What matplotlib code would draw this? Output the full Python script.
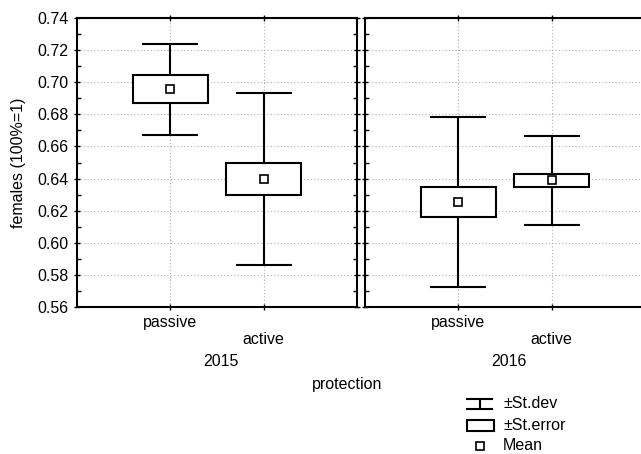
import matplotlib
matplotlib.use("Agg")
import matplotlib.pyplot as plt
from matplotlib.patches import Rectangle
from matplotlib.ticker import MultipleLocator
from matplotlib.lines import Line2D

plt.rcParams['font.family'] = ['Liberation Sans', 'DejaVu Sans']
plt.rcParams['font.size'] = 11.5

years = ["2015", "2016"]
categories = ["passive", "active"]
means = {"2015": [0.6956, 0.6395], "2016": [0.6255, 0.6388]}
st_err = {"2015": [0.0088, 0.0099], "2016": [0.0095, 0.0041]}
st_dev = {"2015": [0.0282, 0.0536], "2016": [0.0529, 0.0275]}

W, H = 641, 454
fig = plt.figure(figsize=(W / 100, H / 100), dpi=100)

lw = 1.5
panel_left = [77, 365]
panel_w = 280
top_px, bot_px = 18, 307

axes = []
for i, yr in enumerate(years):
    ax = fig.add_axes([panel_left[i] / W, (H - bot_px) / H, panel_w / W, (bot_px - top_px) / H])
    axes.append(ax)
    x = [1, 2]
    m = means[yr]
    se = st_err[yr]
    sd = st_dev[yr]
    ax.errorbar(x, m, yerr=sd, fmt='none', ecolor='black', elinewidth=lw,
                capsize=20, capthick=lw, zorder=3)
    for xi, mi, si in zip(x, m, se):
        ax.add_patch(Rectangle((xi - 0.4, mi - si), 0.8, 2 * si, facecolor='white',
                               edgecolor='black', lw=lw, zorder=4))
    ax.plot(x, m, linestyle='none', marker='s', markersize=6, markerfacecolor='white',
            markeredgecolor='black', markeredgewidth=1.2, zorder=5)
    ax.set_xlim(0, 3)
    ax.set_ylim(0.56, 0.74)
    ax.yaxis.set_major_locator(MultipleLocator(0.02))
    ax.yaxis.set_minor_locator(MultipleLocator(0.01))
    ax.set_xticks(x)
    ax.set_xticklabels([])
    ax.grid(True, which='major', color='#b0b0b0', linestyle=(0, (1, 2)), linewidth=0.8)
    ax.set_axisbelow(True)
    for s in ax.spines.values():
        s.set_linewidth(1.5)
    ax.tick_params(axis='both', which='major', direction='inout', length=4, width=1,
                   left=True, right=True, top=True, bottom=True)
    ax.tick_params(axis='y', which='minor', direction='in', length=3, width=1,
                   left=True, right=True)
    if i == 0:
        ax.set_yticks([0.56 + 0.02 * k for k in range(10)])
        ax.set_yticklabels([f"{0.56 + 0.02 * k:.2f}" for k in range(10)])
        ax.tick_params(axis='y', which='major', pad=4)
    else:
        ax.set_yticklabels([])
    # staggered category labels
    for j, (xi, cat) in enumerate(zip(x, categories)):
        ax.annotate(cat, xy=(xi, 0), xycoords=('data', 'axes fraction'),
                    xytext=(0, -16 * 0.72 - 17 * 0.72 * j), textcoords='offset points',
                    ha='center', va='center')
    ax.annotate(yr, xy=(1.5, 0), xycoords=('data', 'axes fraction'),
                xytext=(3, -55 * 0.72), textcoords='offset points', ha='center', va='center')

axes[0].set_ylabel("females (100%=1)", labelpad=8)

fig.text(347 / W, 1 - 385 / H, "protection", ha='center', va='center')

# legend drawn in figure pixel coordinates
lg = fig.add_axes([0, 0, 1, 1])
lg.set_xlim(0, W)
lg.set_ylim(H, 0)
lg.axis('off')
lg.add_line(Line2D([467, 492], [399, 399], color='black', lw=lw))
lg.add_line(Line2D([467, 492], [409, 409], color='black', lw=lw))
lg.add_line(Line2D([479.5, 479.5], [399, 409], color='black', lw=lw))
lg.add_patch(Rectangle((467, 420), 27, 11, facecolor='white', edgecolor='black', lw=lw))
lg.plot([480], [446], linestyle='none', marker='s', markersize=6, markerfacecolor='white',
        markeredgecolor='black', markeredgewidth=1.2)
for yy, txt in zip([404, 426, 446], ["±St.dev", "±St.error", "Mean"]):
    lg.text(503, yy, txt, ha='left', va='center')

fig.savefig("out.png", dpi=100)
